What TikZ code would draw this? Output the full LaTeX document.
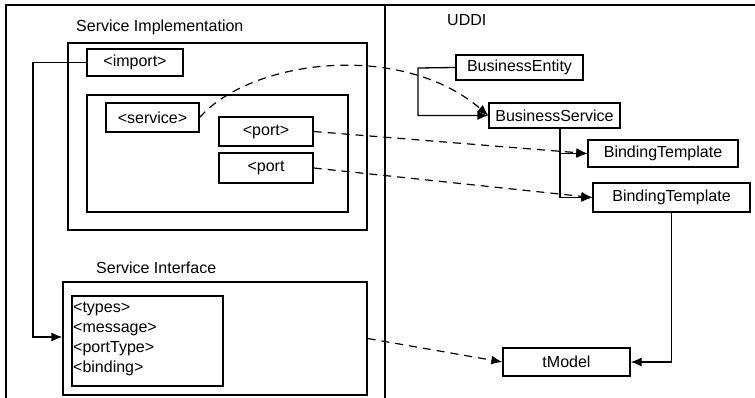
\documentclass[tikz,border=0pt]{standalone}
\usepackage{fontspec}
\setmainfont{Liberation Sans}
\usetikzlibrary{arrows.meta}
\begin{document}
\begin{tikzpicture}[x=1pt,y=-1pt,
  box/.style={draw,line width=1.3pt,inner sep=0pt,font=\fontsize{16}{18}\selectfont},
  title/.style={font=\fontsize{16}{18}\selectfont,inner sep=0pt,anchor=west},
  conn/.style={line width=1.3pt,-{Latex[length=11pt,width=9pt]}},
  dconn/.style={line width=1.2pt,dash pattern=on 8pt off 6pt,-{Latex[length=11pt,width=9pt]}},
  line/.style={line width=1.4pt}]
\useasboundingbox (0,0) rectangle (755,398);
% outer frame
\coordinate (tl) at (6,5);
\coordinate (tr) at (755,5);
\coordinate (bl) at (6,398);
\coordinate (dt) at (385,5);
\coordinate (db) at (385,398);
\draw[line] (bl) -- (tl) -- (tr);
\draw[line] (dt) -- (db);
% titles
\node[title] (tsi) at (76,27) {Service Implementation};
\node[title] (tsf) at (96,268) {Service Interface};
\node[title] (tud) at (447,20) {UDDI};
% left boxes
\node[box,minimum width=299pt,minimum height=187pt] (siouter) at (217.5,136.5) {};
\node[box,minimum width=261pt,minimum height=117pt] (inner) at (217.5,153.5) {};
\node[box,minimum width=96pt,minimum height=27pt,fill=white] (import) at (135,62.5) {<import>};
\node[box,minimum width=93pt,minimum height=29pt] (service) at (152.5,117.5) {<service>};
\node[box,minimum width=94pt,minimum height=29pt] (port1) at (266,131.5) {<port>};
\node[box,minimum width=94pt,minimum height=30pt] (port2) at (266,168) {<port};
\node[box,minimum width=304pt,minimum height=113pt] (siface) at (215,338.5) {};
\node[box,minimum width=151pt,minimum height=90pt] (list) at (147.5,341) {};
\node[title,font=\fontsize{16}{20}\selectfont,align=left,anchor=north west] (listtxt) at (73,302) {<types>\\<message>\\<portType>\\<binding>};
% right boxes
\node[box,minimum width=127pt,minimum height=25pt] (be) at (519.5,67.5) {BusinessEntity};
\node[box,minimum width=131pt,minimum height=25pt] (bs) at (554.5,115.5) {BusinessService};
\node[box,minimum width=150pt,minimum height=27pt] (bt1) at (663,153.5) {BindingTemplate};
\node[box,minimum width=157pt,minimum height=29pt] (bt2) at (671.5,197.5) {BindingTemplate};
\node[box,minimum width=127pt,minimum height=28pt] (tm) at (566.5,362) {tModel};
% solid connectors
\coordinate (c1) at (33,337);
\draw[conn] (import.west) -- (import.west -| c1) -- (c1) -- (c1 -| siface.west);
\coordinate (c2) at (418,68);
\draw[conn] (be.west) -- (c2) |- (bs.west);
\coordinate (c3) at (560,128);
\draw[conn] (c3) |- (bt1.west);
\draw[conn] (c3) |- (bt2.west);
\draw[conn] (bt2.south) |- (tm.east);
% dashed connectors
\draw[dconn] (service.east) .. controls (250,60) and (400,40) .. (bs.west);
\draw[dconn] (port1.east) -- (bt1.west);
\draw[dconn] (port2.east) -- (bt2.west);
\draw[dconn] (siface.east) -- (tm.west);
\end{tikzpicture}
\end{document}
